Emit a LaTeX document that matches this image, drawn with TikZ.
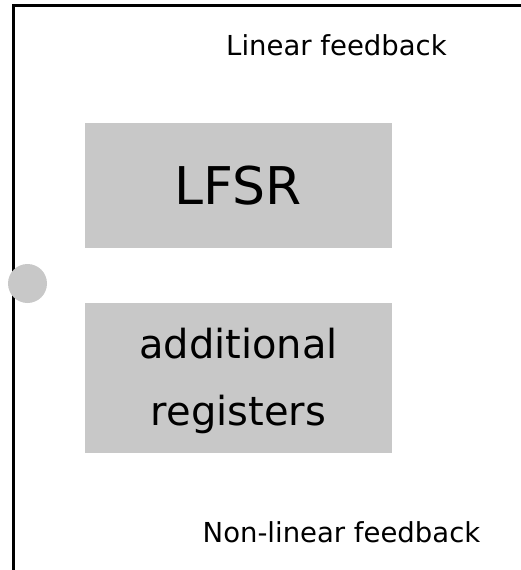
\documentclass[tikz,border=0pt]{standalone}
\usepackage{fontspec}
\setmainfont{DejaVu Sans}
\usepackage{xcolor}
\usepackage{tikz}
\usetikzlibrary{positioning}

\definecolor{regfill}{HTML}{C8C8C8}

\begin{document}
\begin{tikzpicture}[
      x=1pt, y=-1pt,
      node distance=55pt and 0pt,
      regbox/.style={fill=regfill, inner sep=0pt, minimum width=307pt, align=center},
      label/.style={inner sep=0pt, anchor=base, font=\fontsize{27.5}{33}\selectfont},
      frame/.style={line width=3pt, line cap=rect}
    ]
    \useasboundingbox (0,0) rectangle (520,570);

    % outline of the unit
    \draw[frame] (13,575) -- (13,5) -- (525,5);

    \node[regbox, minimum height=125pt, font=\fontsize{52}{60}\selectfont] (lfsr) at (238.5,185.5) {LFSR};
    \node[regbox, minimum height=150pt, below=of lfsr, font=\fontsize{40}{67}\selectfont] (addreg) {\rule{0pt}{36pt}additional\\registers};

    \node[label] (linfb) at (336.5,55) {Linear feedback};
    \node[label] (nlinfb) at (341.5,542) {Non-linear feedback};

    \node[circle, fill=regfill, minimum size=39pt, inner sep=0pt] (tap) at (27.5,283.5) {};
  \end{tikzpicture}
\end{document}
